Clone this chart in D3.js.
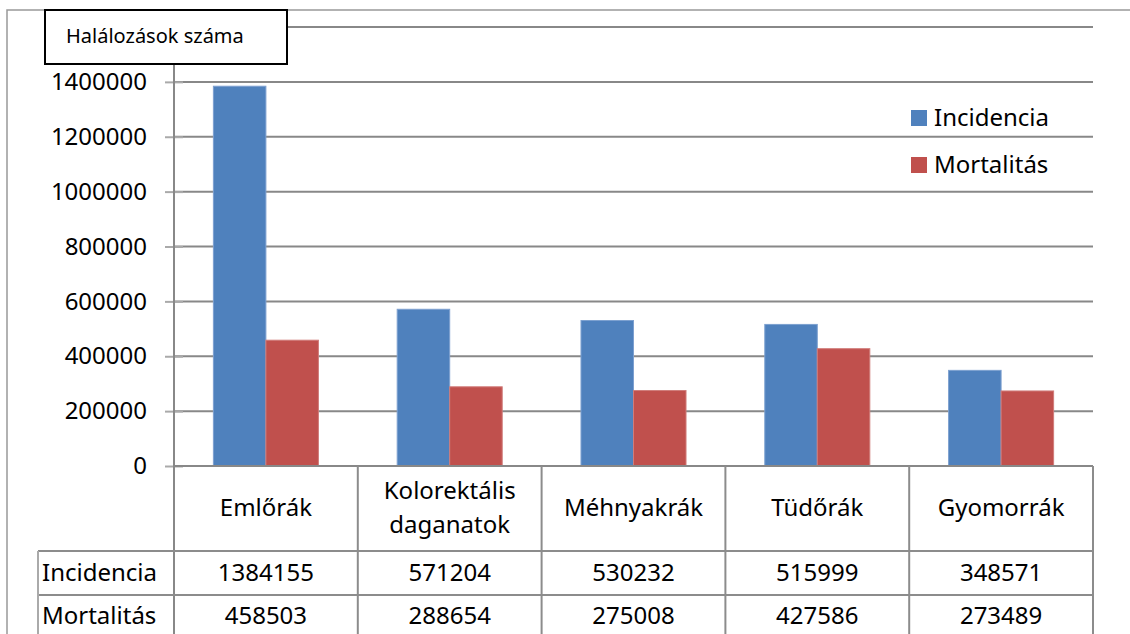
<!DOCTYPE html>
<html>
<head>
<meta charset="utf-8">
<script src="https://cdn.jsdelivr.net/npm/d3@7"></script>
<style>
    body { margin: 0; background: #fff; }
    svg { display: block; font-family: "Noto Sans", sans-serif; }
</style>
</head>
<body>
<div id="chart"></div>
<script>
const categories = ['Emlőrák', 'Kolorektális\ndaganatok', 'Méhnyakrák', 'Tüdőrák', 'Gyomorrák'];
const seriesNames = ['Incidencia', 'Mortalitás'];
const incidencia = [1384155, 571204, 530232, 515999, 348571];
const mortalitas = [458503, 288654, 275008, 427586, 273489];
const gridTicks = [200000, 400000, 600000, 800000, 1000000, 1200000, 1400000, 1600000];
const labelTicks = [0, 200000, 400000, 600000, 800000, 1000000, 1200000, 1400000];
const colors = ['#4f81bd', '#c0504d'];
const edgeColors = ['#7da0d0', '#d07c7a'];

const width = 1130;
const height = 634;
const plot = { left: 174, right: 1093, top: 27, bottom: 466 };
const gridColor = '#888';
const tableColor = '#8c8c8c';
const fontSize = 24;

const svg = d3.select('#chart')
    .append('svg')
    .attr('width', width)
    .attr('height', height);

// outer frame
svg.append('path')
    .attr('d', `M7,${height} V10 H${width}`)
    .attr('fill', 'none')
    .attr('stroke', '#999')
    .attr('stroke-width', 1.5);

const x = d3.scaleBand()
    .domain(d3.range(categories.length))
    .range([plot.left, plot.right]);

const x1 = d3.scaleBand()
    .domain(seriesNames)
    .range([0, x.bandwidth()])
    .paddingOuter(0.75);

const y = d3.scaleLinear()
    .domain([0, 1600000])
    .range([plot.bottom, plot.top]);

// gridlines
svg.append('g')
    .selectAll('line')
    .data(gridTicks)
    .enter()
    .append('line')
    .attr('x1', plot.left)
    .attr('x2', plot.right)
    .attr('y1', d => y(d))
    .attr('y2', d => y(d))
    .attr('stroke', gridColor)
    .attr('stroke-width', 2);

// bars
const data = categories.map((c, i) => [incidencia[i], mortalitas[i]]);
const groups = svg.append('g')
    .selectAll('g')
    .data(data)
    .enter()
    .append('g')
    .attr('transform', (d, i) => `translate(${x(i)},0)`);

groups.selectAll('rect')
    .data(d => d.map((v, j) => ({ v, j })))
    .enter()
    .append('rect')
    .attr('x', d => x1(seriesNames[d.j]))
    .attr('width', x1.bandwidth())
    .attr('y', d => y(d.v))
    .attr('height', d => y(0) - y(d.v))
    .attr('fill', d => colors[d.j])
    .attr('stroke', d => edgeColors[d.j])
    .attr('stroke-width', 1);

// y axis
const yAxis = d3.axisLeft(y)
    .tickValues(labelTicks)
    .tickSize(9)
    .tickFormat(d3.format('d'));

const gy = svg.append('g')
    .attr('transform', `translate(${plot.left},0)`)
    .call(yAxis);
gy.select('.domain').remove();
gy.selectAll('.tick line')
    .attr('stroke', '#aaa')
    .attr('stroke-width', 2)
    .attr('x2', 9)
    .attr('x1', -9);
gy.selectAll('.tick text')
    .attr('x', -27)
    .attr('font-size', fontSize)
    .attr('font-family', '"Noto Sans", sans-serif')
    .attr('fill', '#000');

svg.append('line')
    .attr('x1', plot.left).attr('x2', plot.left)
    .attr('y1', plot.top).attr('y2', height)
    .attr('stroke', gridColor)
    .attr('stroke-width', 2);

// data table
const rowTop = [466, 551, 595];
const tableLeft = 38;
const table = svg.append('g')
    .attr('stroke', tableColor)
    .attr('stroke-width', 2)
    .attr('fill', 'none');

table.append('line')
    .attr('x1', plot.left).attr('x2', plot.right)
    .attr('y1', plot.bottom).attr('y2', plot.bottom)
    .attr('stroke', gridColor);
table.selectAll('.hrow')
    .data(rowTop.slice(1))
    .enter()
    .append('line')
    .attr('x1', tableLeft).attr('x2', plot.right)
    .attr('y1', d => d).attr('y2', d => d);
table.selectAll('.vcol')
    .data(d3.range(1, categories.length + 1))
    .enter()
    .append('line')
    .attr('x1', i => x(i - 1) + x.bandwidth())
    .attr('x2', i => x(i - 1) + x.bandwidth())
    .attr('y1', plot.bottom).attr('y2', height);
table.append('line')
    .attr('x1', tableLeft).attr('x2', tableLeft)
    .attr('y1', rowTop[1]).attr('y2', height)
    .attr('stroke', '#aaa');

const labels = svg.append('g')
    .attr('font-size', fontSize)
    .attr('fill', '#000');

categories.forEach((c, i) => {
    const lines = c.split('\n');
    const cy = 508;
    const t = labels.append('text')
        .attr('x', x(i) + x.bandwidth() / 2)
        .attr('text-anchor', 'middle');
    lines.forEach((ln, k) => {
        t.append('tspan')
            .attr('x', x(i) + x.bandwidth() / 2)
            .attr('y', cy + (k - (lines.length - 1) / 2) * 34)
            .attr('dy', '0.35em')
            .text(ln);
    });
});

[incidencia, mortalitas].forEach((series, r) => {
    const cy = r === 0 ? 573 : 616;
    labels.append('text')
        .attr('x', 42)
        .attr('y', cy)
        .attr('dy', '0.35em')
        .text(seriesNames[r]);
    labels.selectAll(null)
        .data(series)
        .enter()
        .append('text')
        .attr('x', (d, i) => x(i) + x.bandwidth() / 2)
        .attr('y', cy)
        .attr('dy', '0.35em')
        .attr('text-anchor', 'middle')
        .text(d => d);
});

// legend
const legend = svg.append('g')
    .attr('transform', 'translate(911,110)');
seriesNames.forEach((s, i) => {
    legend.append('rect')
        .attr('x', 0)
        .attr('y', i * 47)
        .attr('width', 16)
        .attr('height', 16)
        .attr('fill', colors[i]);
    legend.append('text')
        .attr('x', 23)
        .attr('y', i * 47 + 8)
        .attr('dy', '0.35em')
        .attr('font-size', fontSize)
        .text(s);
});

// title box
svg.append('rect')
    .attr('x', 45).attr('y', 10)
    .attr('width', 242).attr('height', 54)
    .attr('fill', '#fff')
    .attr('stroke', '#000')
    .attr('stroke-width', 2);
svg.append('text')
    .attr('x', 66)
    .attr('y', 36)
    .attr('dy', '0.35em')
    .attr('font-size', 20)
    .text('Halálozások száma');
</script>
</body>
</html>
